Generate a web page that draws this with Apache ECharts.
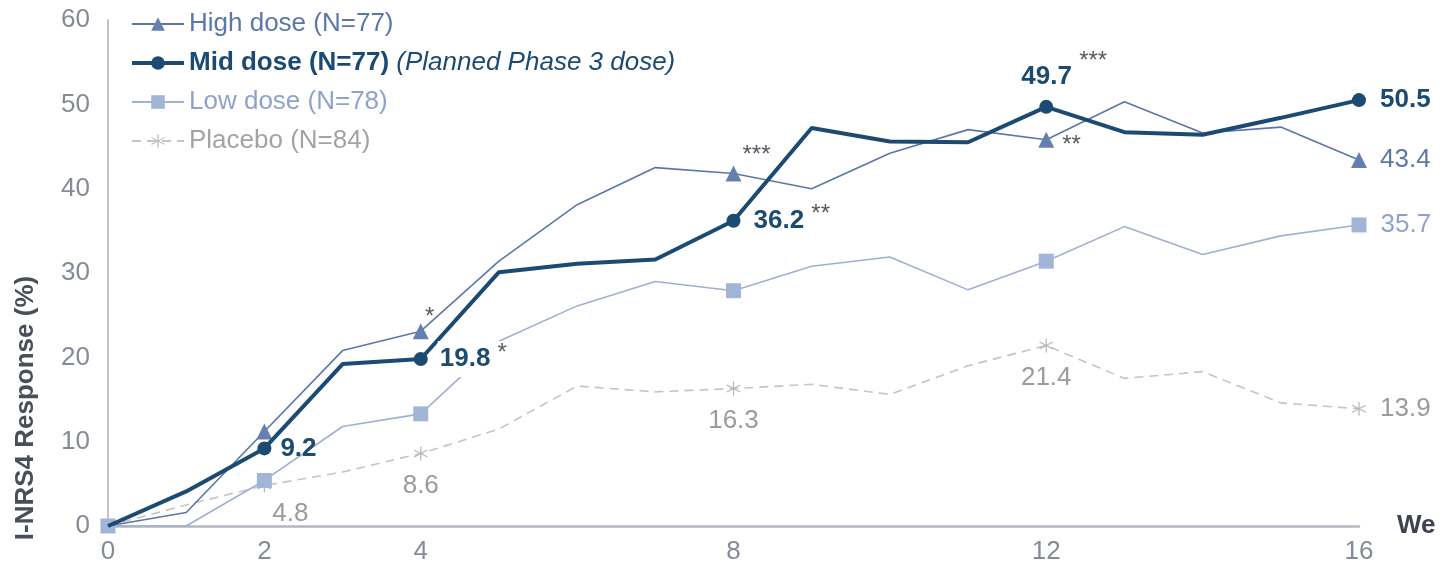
<!DOCTYPE html>
<html>
<head>
<meta charset="utf-8">
<script src="https://cdn.jsdelivr.net/npm/echarts@6/dist/echarts.min.js"></script>
<style>
  html, body { margin: 0; padding: 0; background: #fff; }
  #chart { width: 1447px; height: 567px; }
</style>
</head>
<body>
<div id="chart"></div>
<script>
// weeks 0..16, response in %
const weeks = [0, 1, 2, 3, 4, 5, 6, 7, 8, 9, 10, 11, 12, 13, 14, 15, 16]
const highDose = [0, 1.6, 11.2, 20.8, 23.1, 31.4, 38.1, 42.5, 41.8, 40.0, 44.2, 47.0, 45.8, 50.3, 46.6, 47.3, 43.4]
const midDose = [0, 4.1, 9.2, 19.2, 19.8, 30.1, 31.1, 31.6, 36.2, 47.2, 45.6, 45.5, 49.7, 46.7, 46.4, 48.4, 50.5]
const lowDose = [0, 0, 5.4, 11.8, 13.3, 21.9, 26.1, 29.0, 27.9, 30.8, 31.9, 28.0, 31.4, 35.5, 32.2, 34.4, 35.7]
const placebo = [0, 2.5, 4.8, 6.4, 8.6, 11.5, 16.6, 15.9, 16.3, 16.8, 15.6, 19.0, 21.4, 17.5, 18.3, 14.6, 13.9]

const xTicks = [0, 2, 4, 8, 12, 16]

// significance markers vs placebo, by week
const highSig = { 4: '*', 8: '***', 12: '**' }
const midSig = { 4: '*', 8: '**', 12: '***' }

const names = ['High dose (N=77)', 'Mid dose (N=77)', 'Low dose (N=78)', 'Placebo (N=84)']

const FONT = 'Liberation Sans, Arial, Helvetica, sans-serif'
const MID = '#1b4a72'
const HIGH = '#5b77a7'
const LOW = '#9fb0d0'
const PBO = '#c4c4c4'
const STAR = '#555a60'

const starPath = 'path://M-0.8,-10 L0.8,-10 L0.8,10 L-0.8,10 Z ' +
  'M8.26,-5.69 L9.06,-4.31 L-8.26,5.69 L-9.06,4.31 Z ' +
  'M-9.06,-4.31 L-8.26,-5.69 L9.06,4.31 L8.26,5.69 Z'

const fmt = (v) => v.toFixed(1)

const rich = {
  v: { fontFamily: FONT, fontSize: 26, fontWeight: 'bold', color: MID, lineHeight: 28 },
  s: { fontFamily: FONT, fontSize: 24, color: STAR, padding: [0, 0, 12, 0] },
  t: { fontFamily: FONT, fontSize: 24, color: STAR, padding: [0, 0, 30, 0] }
}

const midLabel = (w, v) => {
  if (w === 2) return { show: true, position: 'right', distance: 9, formatter: '{v|' + fmt(v) + '}', rich }
  if (w === 4 || w === 8) {
    return {
      show: true, position: 'right', distance: w === 4 ? 10 : 11,
      formatter: '{v|' + fmt(v) + ' }{s|' + midSig[w] + '}', rich,
      backgroundColor: w === 4 ? '#fff' : 'transparent', padding: [0, 2]
    }
  }
  if (w === 12) {
    return {
      show: true, position: 'top', distance: -4, offset: [18, 0],
      formatter: '{v|' + fmt(v) + ' }{t|' + midSig[w] + '}', rich
    }
  }
  if (w === 16) return { show: true, position: 'right', distance: 14, formatter: '{v|' + fmt(v) + '}', rich }
  return { show: false }
}

const highLabel = (w, v) => {
  const st = { fontFamily: FONT, fontSize: 24, color: STAR }
  if (w === 4) return Object.assign({ show: true, position: 'top', distance: 0, offset: [9, 6], formatter: highSig[w] }, st)
  if (w === 8) return Object.assign({ show: true, position: 'top', distance: 0, offset: [23, 2], formatter: highSig[w] }, st)
  if (w === 12) return Object.assign({ show: true, position: 'right', distance: 8, offset: [0, 6], formatter: highSig[w] }, st)
  if (w === 16) return { show: true, position: 'right', distance: 13, fontFamily: FONT, fontSize: 26, color: '#5e78a6', formatter: fmt(v) }
  return { show: false }
}

const lowLabel = (w, v) => {
  if (w === 16) return { show: true, position: 'right', distance: 14, fontFamily: FONT, fontSize: 26, color: '#8ea3cb', formatter: fmt(v) }
  return { show: false }
}

const placeboLabel = (w, v) => {
  const st = { show: true, fontFamily: FONT, fontSize: 26, color: '#9b9b9b', formatter: fmt(v) }
  if (w === 2) return Object.assign({ position: 'bottom', distance: 8, offset: [26, 0] }, st)
  if (w === 4 || w === 8 || w === 12) return Object.assign({ position: 'bottom', distance: 12 }, st)
  if (w === 16) return Object.assign({ position: 'right', distance: 14 }, st)
  return { show: false }
}

const build = (values, labelFn) => weeks.map((w, i) => ({
  value: [w, values[i]],
  label: labelFn(w, values[i])
}))

const chart = echarts.init(document.getElementById('chart'))

const option = {
  animation: false,
  textStyle: { fontFamily: FONT },
  grid: { left: 108, right: 88, top: 20, bottom: 41 },
  legend: {
    orient: 'vertical',
    left: 130,
    top: 10,
    padding: 0,
    itemWidth: 52,
    itemHeight: 17,
    itemGap: 11,
    textStyle: {
      fontFamily: FONT,
      fontSize: 26,
      lineHeight: 28,
      rich: {
        b: { fontFamily: FONT, fontSize: 26, fontWeight: 'bold', color: MID, lineHeight: 28 },
        i: { fontFamily: FONT, fontSize: 26, fontStyle: 'italic', color: MID, lineHeight: 28 }
      }
    },
    formatter: (name) => name === names[1]
      ? '{b|' + name + '} {i|(Planned Phase 3 dose)}'
      : name,
    data: [
      { name: names[0], textStyle: { color: '#5b77a7' } },
      { name: names[1], lineStyle: { width: 4 } },
      { name: names[2], textStyle: { color: '#8ea3cb' } },
      { name: names[3], textStyle: { color: '#a3a3a3' } }
    ]
  },
  xAxis: {
    type: 'value',
    min: 0,
    max: 16,
    name: 'We',
    nameLocation: 'end',
    nameGap: 38,
    nameTextStyle: { fontFamily: FONT, fontSize: 26, fontWeight: 'bold', color: '#3d4450', verticalAlign: 'middle', padding: [6, 0, 0, 0] },
    axisLine: { lineStyle: { color: '#b3b8c0', width: 2.5 } },
    axisTick: { show: false },
    splitLine: { show: false },
    axisLabel: {
      customValues: xTicks,
      fontSize: 26,
      color: '#858b96',
      margin: 13
    }
  },
  yAxis: {
    type: 'value',
    min: 0,
    max: 60,
    interval: 10,
    axisLine: { show: true, lineStyle: { color: '#c0c4cc', width: 2 } },
    axisTick: { show: false },
    splitLine: { show: false },
    axisLabel: { fontSize: 26, color: '#858b96', margin: 18 }
  },
  graphic: [{
    type: 'text',
    x: 26,
    y: 408,
    rotation: Math.PI / 2,
    style: {
      text: 'I-NRS4 Response (%)',
      font: 'bold 26px ' + FONT,
      fill: '#4a4f57',
      align: 'center',
      verticalAlign: 'middle',
      textAlign: 'center',
      textVerticalAlign: 'middle'
    }
  }],
  series: [
    {
      name: names[3],
      type: 'line',
      z: 1,
      symbol: starPath,
      symbolSize: 14,
      lineStyle: { color: PBO, width: 1.6, type: [9, 6] },
      itemStyle: { color: '#b8b8b8' },
      showAllSymbol: true,
      data: build(placebo, placeboLabel).map((d, i) => Object.assign(d, { symbolSize: xTicks.includes(weeks[i]) && weeks[i] > 0 ? 14 : 0 }))
    },
    {
      name: names[2],
      type: 'line',
      z: 2,
      symbol: 'rect',
      lineStyle: { color: LOW, width: 1.6 },
      itemStyle: { color: '#a3b5d6' },
      data: build(lowDose, lowLabel).map((d, i) => Object.assign(d, { symbolSize: xTicks.includes(weeks[i]) ? 15 : 0 }))
    },
    {
      name: names[0],
      type: 'line',
      z: 3,
      symbol: 'triangle',
      lineStyle: { color: HIGH, width: 1.6 },
      itemStyle: { color: '#6580b0' },
      data: build(highDose, highLabel).map((d, i) => Object.assign(d, { symbolSize: xTicks.includes(weeks[i]) && weeks[i] > 0 ? 16 : 0 }))
    },
    {
      name: names[1],
      type: 'line',
      z: 4,
      symbol: 'circle',
      lineStyle: { color: MID, width: 4 },
      itemStyle: { color: MID },
      data: build(midDose, midLabel).map((d, i) => Object.assign(d, { symbolSize: xTicks.includes(weeks[i]) && weeks[i] > 0 ? 14 : 0 }))
    }
  ]
}

chart.setOption(option)
</script>
</body>
</html>
